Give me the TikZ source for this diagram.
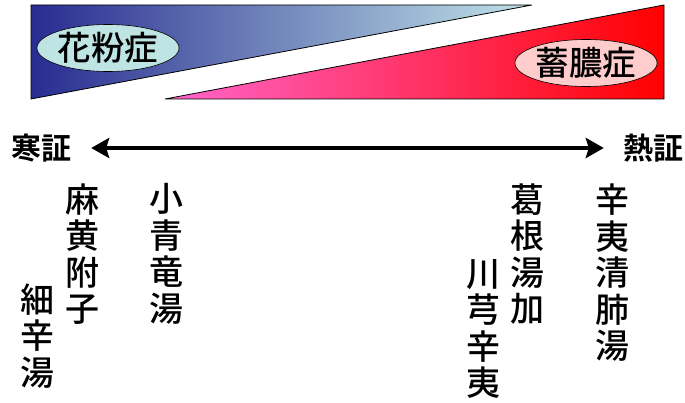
\documentclass[tikz,border=0pt]{standalone}
\usepackage{fontspec}
\newfontfamily\jp{Noto Sans CJK JP}[BoldFont={Noto Sans CJK JP Bold}]
\newfontfamily\jpm{Noto Sans CJK JP Medium}
\usetikzlibrary{shapes.geometric,arrows.meta}
\definecolor{blueL}{RGB}{40,44,145}
\definecolor{cyanR}{RGB}{192,228,232}
\definecolor{pinkL}{RGB}{255,102,204}
\definecolor{redR}{RGB}{255,0,0}
\definecolor{cyanO}{RGB}{190,228,228}
\definecolor{pinkO}{RGB}{255,204,204}
\begin{document}
\begin{tikzpicture}[x=1pt,y=-1pt,
  vtext/.style={font=\jpm\fontsize{34}{36.5}\selectfont, align=center, inner sep=0pt},
  side/.style={font=\jp\bfseries\fontsize{30}{32}\selectfont, inner sep=0pt},
  oval/.style={ellipse, draw=black, line width=0.6pt, minimum width=125pt, minimum height=47pt, inner sep=0pt, font=\jpm\fontsize{33.5}{35}\selectfont},
  tri/.style={draw=black, line width=0.8pt}]
\useasboundingbox (0,0) rectangle (685,403);
\path[tri, left color=blueL, right color=cyanR] (31,5) -- (532,5) -- (31,99) -- cycle;
\path[tri, left color=pinkL, right color=redR] (165,99) -- (664,99) -- (664,5) -- cycle;
\node[oval, fill=cyanO] (kafun) at (108,48) {花粉症};
\node[oval, fill=pinkO] (chikunou) at (586,63) {蓄膿症};
\node[side] (kan) at (42,148) {寒証};
\node[side] (netsu) at (653,148) {熱証};
\draw[line width=4pt, {Stealth[length=18pt,width=20pt,inset=3pt]}-{Stealth[length=18pt,width=20pt,inset=3pt]}, shorten <=19pt, shorten >=19pt] (kan.east) -- (netsu.west);
\node[vtext] (mao) at (82,254) {麻\\黄\\附\\子};
\node[vtext] (saishin) at (37,336) {細\\辛\\湯};
\node[vtext] (shosei) at (166,254) {小\\青\\竜\\湯};
\node[vtext] (kakkon) at (527,254) {葛\\根\\湯\\加};
\node[vtext] (senkyu) at (483,329) {川\\芎\\辛\\夷};
\node[vtext] (shini) at (612,273) {辛\\夷\\清\\肺\\湯};
\end{tikzpicture}
\end{document}
